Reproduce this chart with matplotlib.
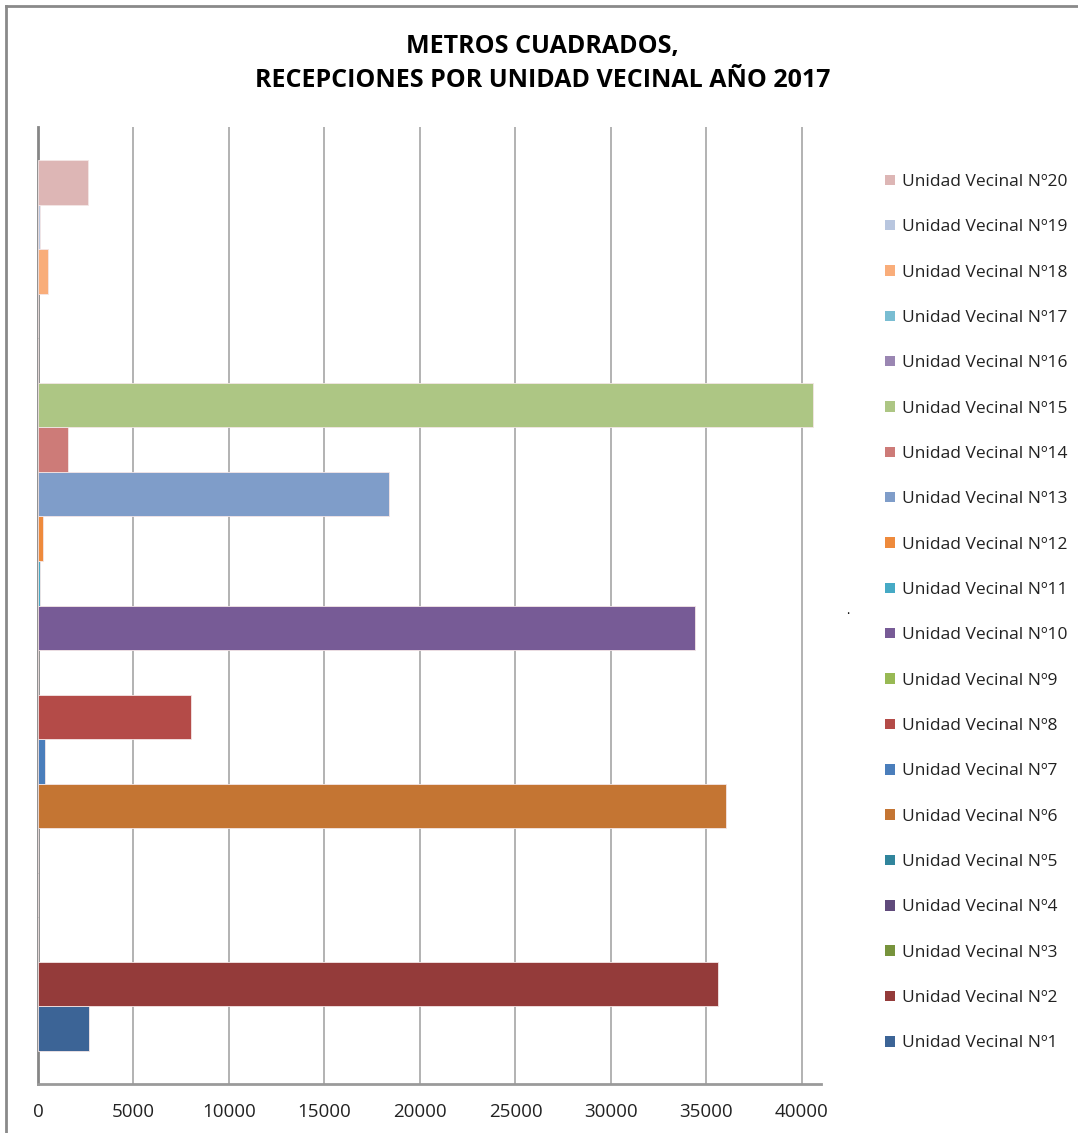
import matplotlib.pyplot as plt
from matplotlib.patches import Patch
from matplotlib.lines import Line2D

plt.rcParams['font.family'] = ['Open Sans', 'DejaVu Sans']

# datos: metros cuadrados por unidad vecinal
unidades = ['Unidad Vecinal Nº%d' % i for i in range(1, 21)]
metros = [2680, 35600, 0, 0, 0, 36050, 350, 8000, 0, 34400,
          80, 280, 18400, 1550, 40600, 0, 0, 520, 80, 2600]
colores = ['#3C6496', '#943B3A', '#77933C', '#604A7B', '#31859C',
           '#C47533', '#4A7EBB', '#B44B48', '#98B954', '#775B96',
           '#46AAC5', '#EE8A3C', '#7F9DC9', '#CD7B78', '#ADC684',
           '#9A86B2', '#79BDD2', '#F9AD7A', '#B8C6DF', '#DDB6B5']
xticks = [0, 5000, 10000, 15000, 20000, 25000, 30000, 35000, 40000]

fig = plt.figure(figsize=(10.78, 11.33), dpi=100)
ax = fig.add_axes([38 / 1078, 1 - 1084 / 1133, (821 - 38) / 1078, (1084 - 127) / 1133])

posiciones = list(range(1, len(unidades) + 1))
for pos, valor, color, nombre in zip(posiciones, metros, colores, unidades):
    ax.barh(pos, valor, height=1.0, color=color, edgecolor='#F4E6E6', linewidth=0.6, label=nombre, zorder=3)

ax.set_xlim(0, 41000)
ax.set_ylim(-0.25, 21.25)
ax.set_xticks(xticks)
ax.set_xticklabels([str(t) for t in xticks], fontsize=13.5, color='#222222')
ax.set_yticks([])
ax.tick_params(axis='x', length=0, pad=14)
ax.grid(axis='x', color='#A6A6A6', linewidth=1.2, zorder=0)
for lado in ['top', 'right']:
    ax.spines[lado].set_visible(False)
ax.spines['left'].set_color('#868686')
ax.spines['left'].set_linewidth(2)
ax.spines['bottom'].set_color('#9A9A9A')
ax.spines['bottom'].set_linewidth(2)

# leyenda de arriba hacia abajo: 20 ... 1
handles = [Patch(facecolor=c, edgecolor='none') for c in colores][::-1]
fig.legend(handles, unidades[::-1], loc='upper left', bbox_to_anchor=(885 / 1078, 1 - 174 / 1133),
           frameon=False, fontsize=12.5, handlelength=0.55, handleheight=0.55,
           handletextpad=0.45, labelspacing=1.69, borderaxespad=0, borderpad=0,
           labelcolor='#222222')

fig.text(0.503, 1 - 53 / 1133, 'METROS CUADRADOS,', ha='center', va='baseline',
         fontsize=18, fontweight='bold')
fig.text(0.503, 1 - 87 / 1133, 'RECEPCIONES POR UNIDAD VECINAL AÑO 2017', ha='center', va='baseline',
         fontsize=18, fontweight='bold')
fig.text(848 / 1078, 1 - 610 / 1133, '.', ha='center', va='center', fontsize=9)

# marco del gráfico
fig.add_artist(Line2D([6 / 1078, 6 / 1078], [0, 1 - 6 / 1133], color='#8A8A8A', linewidth=2))
fig.add_artist(Line2D([6 / 1078, 1], [1 - 6 / 1133, 1 - 6 / 1133], color='#8A8A8A', linewidth=2))

fig.savefig('out.png', dpi=100)
